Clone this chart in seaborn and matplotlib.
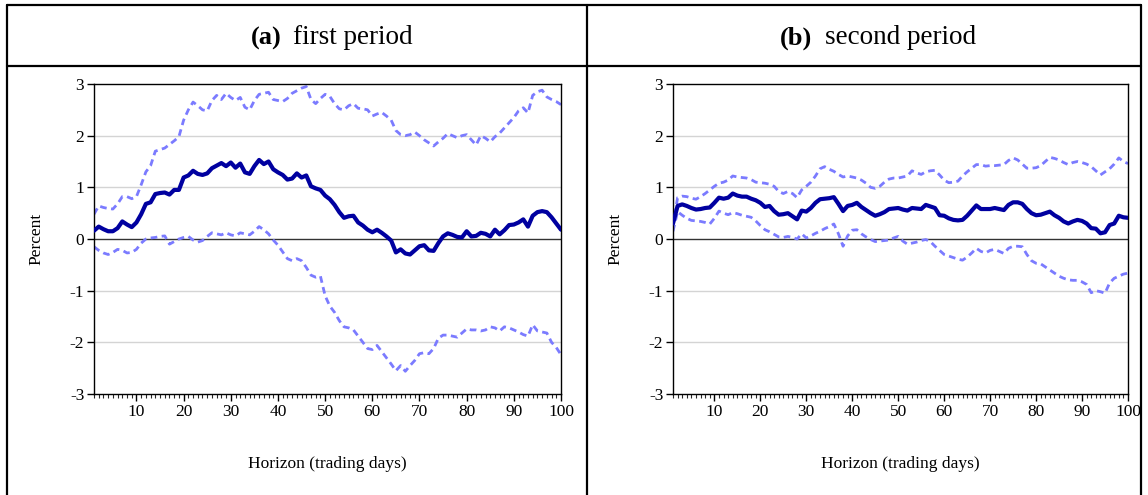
import numpy as np
import pandas as pd
import matplotlib
matplotlib.use("Agg")
import matplotlib.pyplot as plt
import matplotlib.ticker as ticker
from matplotlib.lines import Line2D
import seaborn as sns

# horizon (trading days)
horizon = list(range(1, 101))

# (a) first period
a_irf = [0.16, 0.24, 0.19, 0.15, 0.15, 0.21, 0.34, 0.28, 0.23, 0.32,
         0.48, 0.68, 0.71, 0.87, 0.89, 0.90, 0.86, 0.95, 0.95, 1.19,
         1.23, 1.32, 1.26, 1.24, 1.27, 1.37, 1.42, 1.47, 1.41, 1.48,
         1.38, 1.46, 1.29, 1.26, 1.41, 1.53, 1.45, 1.50, 1.35, 1.29,
         1.24, 1.15, 1.17, 1.27, 1.19, 1.23, 1.02, 0.98, 0.95, 0.84,
         0.77, 0.66, 0.52, 0.41, 0.44, 0.45, 0.32, 0.26, 0.18, 0.13,
         0.18, 0.12, 0.05, -0.03, -0.26, -0.20, -0.28, -0.30, -0.22, -0.14,
         -0.12, -0.22, -0.23, -0.08, 0.05, 0.11, 0.08, 0.04, 0.03, 0.15,
         0.05, 0.06, 0.12, 0.10, 0.05, 0.18, 0.09, 0.17, 0.27, 0.28,
         0.32, 0.38, 0.24, 0.45, 0.52, 0.54, 0.52, 0.42, 0.30, 0.18]
a_upper = [0.48, 0.64, 0.61, 0.59, 0.58, 0.68, 0.82, 0.82, 0.78, 0.82,
           1.05, 1.30, 1.42, 1.70, 1.73, 1.76, 1.83, 1.90, 1.98, 2.30,
           2.50, 2.65, 2.58, 2.50, 2.48, 2.68, 2.78, 2.70, 2.82, 2.74,
           2.68, 2.74, 2.55, 2.50, 2.68, 2.80, 2.82, 2.84, 2.70, 2.68,
           2.66, 2.72, 2.82, 2.87, 2.92, 2.95, 2.70, 2.62, 2.72, 2.80,
           2.76, 2.62, 2.52, 2.50, 2.58, 2.62, 2.53, 2.52, 2.50, 2.38,
           2.42, 2.45, 2.38, 2.30, 2.10, 2.02, 2.00, 2.02, 2.07, 2.00,
           1.92, 1.86, 1.80, 1.88, 1.95, 2.04, 2.00, 1.96, 2.00, 2.02,
           1.92, 1.82, 2.00, 1.95, 1.88, 1.98, 2.05, 2.15, 2.25, 2.35,
           2.48, 2.54, 2.44, 2.78, 2.85, 2.88, 2.75, 2.70, 2.66, 2.60]
a_lower = [-0.15, -0.22, -0.27, -0.30, -0.26, -0.20, -0.22, -0.27, -0.26, -0.20,
           -0.08, 0.00, 0.02, 0.03, 0.05, 0.06, -0.10, -0.05, 0.00, 0.03,
           0.05, -0.02, -0.06, -0.03, 0.05, 0.12, 0.10, 0.08, 0.12, 0.08,
           0.06, 0.12, 0.10, 0.08, 0.15, 0.24, 0.18, 0.10, -0.02, -0.12,
           -0.25, -0.38, -0.42, -0.38, -0.42, -0.55, -0.70, -0.74, -0.72, -1.10,
           -1.30, -1.42, -1.58, -1.70, -1.72, -1.76, -1.88, -2.00, -2.12, -2.14,
           -2.06, -2.18, -2.30, -2.42, -2.55, -2.45, -2.56, -2.45, -2.35, -2.22,
           -2.20, -2.22, -2.12, -1.92, -1.86, -1.86, -1.88, -1.90, -1.82, -1.74,
           -1.76, -1.76, -1.78, -1.76, -1.70, -1.72, -1.78, -1.70, -1.72, -1.76,
           -1.80, -1.85, -1.88, -1.66, -1.78, -1.80, -1.82, -2.00, -2.10, -2.24]

# (b) second period
b_irf = [0.30, 0.64, 0.67, 0.64, 0.60, 0.57, 0.58, 0.60, 0.61, 0.70,
         0.80, 0.78, 0.80, 0.88, 0.84, 0.82, 0.82, 0.78, 0.75, 0.70,
         0.62, 0.64, 0.54, 0.47, 0.48, 0.50, 0.44, 0.38, 0.55, 0.53,
         0.60, 0.70, 0.77, 0.78, 0.79, 0.81, 0.68, 0.54, 0.64, 0.66,
         0.70, 0.62, 0.56, 0.50, 0.45, 0.48, 0.52, 0.58, 0.59, 0.60,
         0.57, 0.55, 0.60, 0.59, 0.58, 0.66, 0.63, 0.60, 0.46, 0.45,
         0.40, 0.37, 0.36, 0.37, 0.45, 0.55, 0.65, 0.58, 0.58, 0.58,
         0.60, 0.58, 0.56, 0.66, 0.71, 0.71, 0.68, 0.58, 0.50, 0.46,
         0.47, 0.50, 0.53, 0.46, 0.41, 0.34, 0.30, 0.34, 0.37, 0.35,
         0.30, 0.21, 0.20, 0.11, 0.13, 0.27, 0.30, 0.45, 0.42, 0.41]
b_upper = [0.25, 0.80, 0.83, 0.82, 0.79, 0.77, 0.82, 0.88, 0.95, 1.02,
           1.08, 1.10, 1.14, 1.22, 1.20, 1.19, 1.18, 1.15, 1.10, 1.09,
           1.08, 1.06, 1.02, 0.92, 0.88, 0.92, 0.88, 0.80, 0.95, 1.02,
           1.10, 1.22, 1.36, 1.40, 1.35, 1.31, 1.25, 1.20, 1.22, 1.20,
           1.18, 1.14, 1.08, 1.00, 0.98, 1.02, 1.10, 1.16, 1.18, 1.18,
           1.20, 1.22, 1.32, 1.28, 1.25, 1.30, 1.32, 1.33, 1.24, 1.14,
           1.09, 1.10, 1.12, 1.22, 1.30, 1.37, 1.44, 1.44, 1.41, 1.42,
           1.42, 1.43, 1.44, 1.52, 1.57, 1.53, 1.45, 1.37, 1.37, 1.38,
           1.42, 1.50, 1.58, 1.56, 1.53, 1.48, 1.44, 1.48, 1.50, 1.48,
           1.45, 1.40, 1.32, 1.24, 1.30, 1.36, 1.45, 1.57, 1.50, 1.46]
b_lower = [0.15, 0.53, 0.46, 0.40, 0.36, 0.35, 0.34, 0.32, 0.29, 0.40,
           0.54, 0.50, 0.47, 0.51, 0.49, 0.46, 0.44, 0.42, 0.35, 0.26,
           0.18, 0.14, 0.09, 0.04, 0.03, 0.05, 0.03, 0.00, 0.10, 0.02,
           0.06, 0.11, 0.15, 0.20, 0.24, 0.29, 0.10, -0.14, 0.06, 0.17,
           0.18, 0.10, 0.04, -0.01, -0.05, -0.04, -0.03, -0.02, 0.02, 0.05,
           -0.04, -0.10, -0.08, -0.06, -0.03, -0.01, -0.05, -0.14, -0.22, -0.30,
           -0.33, -0.36, -0.39, -0.41, -0.35, -0.27, -0.18, -0.24, -0.27, -0.22,
           -0.20, -0.24, -0.28, -0.18, -0.14, -0.14, -0.15, -0.30, -0.42, -0.47,
           -0.48, -0.54, -0.60, -0.66, -0.72, -0.76, -0.79, -0.80, -0.80, -0.83,
           -0.88, -1.04, -1.00, -1.02, -1.05, -0.85, -0.76, -0.72, -0.68, -0.66]

panels = [
    ("(a)", "first period", a_irf, a_upper, a_lower),
    ("(b)", "second period", b_irf, b_upper, b_lower),
]

sns.set_style("white")
plt.rcParams['font.family'] = ['Liberation Serif', 'DejaVu Serif']
plt.rcParams['axes.unicode_minus'] = False
plt.rcParams['text.color'] = 'black'
plt.rcParams['axes.labelcolor'] = 'black'

fig = plt.figure(figsize=(11.48, 4.95), dpi=100)

# 表のような枠線
W, H = 1148.0, 495.0
def fx(px):
    return px / W
def fy(py):
    return 1 - py / H
frame_lw = 1.6
for x0, y0, x1, y1 in [(7, 5, 1141, 5), (7, 66, 1141, 66), (7, 5, 7, 495),
                       (1141, 5, 1141, 495), (587, 5, 587, 495)]:
    fig.add_artist(Line2D([fx(x0), fx(x1)], [fy(y0), fy(y1)], color="black",
                          lw=frame_lw, transform=fig.transFigure))

axes_pos = [[fx(94), fy(394), fx(561) - fx(94), fy(84) - fy(394)],
            [fx(673), fy(394), fx(1128) - fx(673), fy(84) - fy(394)]]
# 見出しの位置 (タグの右端, 本文の左端) [px]
title_px = [(282, 293), (812, 825)]

for (tag, name, irf, upper, lower), pos, (tx0, tx1) in zip(panels, axes_pos, title_px):
    ax = fig.add_axes(pos)
    df = pd.DataFrame({"h": horizon, "irf": irf, "upper": upper, "lower": lower})

    for yv in [-2, -1, 1, 2]:
        ax.axhline(yv, color="#d4d4d4", lw=1.0, zorder=0)
    ax.axhline(0, color="#333333", lw=1.0, zorder=1)

    for col in ["upper", "lower"]:
        sns.lineplot(data=df, x="h", y=col, ax=ax, color="#7b7bff", lw=2.0,
                     linestyle=(0, (2.4, 1.6)), zorder=2)
    sns.lineplot(data=df, x="h", y="irf", ax=ax, color="#0000a0", lw=3.0, zorder=3)

    ax.set_xlim(1, 100)
    ax.set_ylim(-3, 3)
    ax.xaxis.set_major_locator(ticker.MultipleLocator(10))
    ax.xaxis.set_minor_locator(ticker.MultipleLocator(1))
    ax.yaxis.set_major_locator(ticker.MultipleLocator(1))
    ax.tick_params(axis="both", which="major", direction="out", length=5, width=1,
                   labelsize=12.5, colors="black", pad=2)
    ax.tick_params(axis="x", which="minor", direction="out", length=3, width=0.8)
    ax.tick_params(bottom=True, left=True, which="both")
    ax.tick_params(left=False, which="minor")
    for sp in ax.spines.values():
        sp.set_color("black")
        sp.set_linewidth(1.0)
    ax.set_ylabel("Percent", fontsize=12.5, labelpad=18)
    ax.set_xlabel("Horizon (trading days)", fontsize=12.5, labelpad=26)

    fig.text(fx(tx0), fy(38), tag, fontsize=19, fontweight="bold",
             ha="right", va="center")
    fig.text(fx(tx1), fy(38), name, fontsize=19.5, ha="left", va="center")

fig.savefig("out.png", dpi=100)
